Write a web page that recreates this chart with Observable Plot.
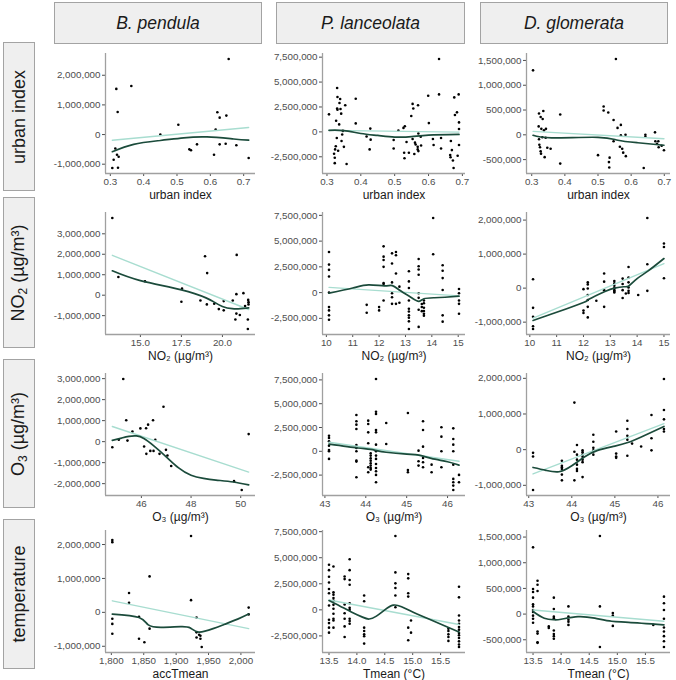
<!DOCTYPE html>
<html>
<head>
<meta charset="utf-8">
<script src="https://cdn.jsdelivr.net/npm/d3@7"></script>
<script src="https://cdn.jsdelivr.net/npm/@observablehq/plot@0.6"></script>
<style>
  html, body { margin: 0; padding: 0; background: #fff; }
  #root { position: relative; width: 676px; height: 680px; overflow: hidden; font-family: "Liberation Sans", Arial, "DejaVu Sans", sans-serif; }
  .hbox { position: absolute; box-sizing: border-box; background: #efefef; border: 1px solid #a3a3a3; display: flex; align-items: center; justify-content: center; font-style: italic; font-size: 17.5px; color: #1a1a1a; }
  .rbox { position: absolute; box-sizing: border-box; background: #efefef; border: 1px solid #a3a3a3; }
  .rbox span { position: absolute; left: 50%; top: 50%; transform: translate(-50%, -50%) rotate(-90deg); white-space: nowrap; font-size: 18px; color: #1a1a1a; }
  .rbox sub { font-size: 12px; vertical-align: -3px; }
  .panel { position: absolute; }
</style>
</head>
<body>
<div id="root"></div>
<script>
// ---------------- DATA (y values in millions) ----------------
const species = ["B. pendula", "P. lanceolata", "D. glomerata"];
const rowLabels = ["urban index", "NO<sub>2</sub> (µg/m³)", "O<sub>3</sub> (µg/m³)", "temperature"];
const xLabels = [
  ["urban index", "urban index", "urban index"],
  ["NO₂ (µg/m³)", "NO₂ (µg/m³)", "NO₂ (µg/m³)"],
  ["O₃ (µg/m³)", "O₃ (µg/m³)", "O₃ (µg/m³)"],
  ["accTmean", "Tmean (°C)", "Tmean (°C)"]
];

// tick labels
const urbanTicks = [0.3, 0.4, 0.5, 0.6, 0.7];
const no2TicksBp = [15, 17.5, 20];
const no2Ticks = [10, 11, 12, 13, 14, 15];
const o3TicksBp = [46, 48, 50];
const o3Ticks = [43, 44, 45, 46];
const accTicks = [1800, 1850, 1900, 1950, 2000];
const tmeanTicks = [13.5, 14, 14.5, 15, 15.5];
const yT1 = [-1, 0, 1, 2];
const yT25 = [-2.5, 0, 2.5, 5, 7.5];
const yT05 = [-0.5, 0, 0.5, 1, 1.5];
const yT3 = [-1, 0, 1, 2, 3];
const yTo3 = [-2, -1, 0, 1, 2, 3];
const yT2 = [-1, 0, 1, 2];

// Row 1: urban index
const bpUrbanPts = [[0.306,-1.13],[0.31,-0.85],[0.315,-0.47],[0.318,1.54],[0.32,-0.68],[0.322,0.76],[0.323,-1.12],[0.325,-0.75],[0.363,1.64],[0.45,0.0],[0.504,0.33],[0.537,-0.5],[0.542,-0.53],[0.56,-0.33],[0.611,-0.68],[0.616,0.17],[0.621,0.75],[0.628,0.57],[0.628,-0.33],[0.646,-0.31],[0.648,0.64],[0.655,2.55],[0.678,-0.36],[0.715,-0.79]];
const bpUrbanLin = [[0.306,-0.19],[0.715,0.24]];
const bpUrbanSmooth = [[0.306,-0.58],[0.37,-0.33],[0.45,-0.2],[0.52,-0.11],[0.59,-0.08],[0.67,-0.15],[0.715,-0.19]];

const plUrbanPts = [[0.306,1.76],[0.321,-2.19],[0.323,-3.14],[0.323,-2.6],[0.324,-1.76],[0.326,-1.44],[0.327,1.11],[0.329,-0.62],[0.33,4.41],[0.331,3.5],[0.33,2.35],[0.331,2.22],[0.333,-1.9],[0.336,0.75],[0.337,2.9],[0.339,3.3],[0.34,2.29],[0.342,1.83],[0.343,-0.92],[0.345,-0.26],[0.347,0.1],[0.35,-1.5],[0.354,2.68],[0.358,-3.23],[0.385,3.33],[0.385,0.85],[0.417,-0.46],[0.426,-1.76],[0.428,0.33],[0.429,-0.78],[0.497,-0.82],[0.497,-1.67],[0.511,0.13],[0.526,0.4],[0.53,0.56],[0.528,-2.09],[0.529,-2.65],[0.535,-1.01],[0.542,-2.09],[0.549,1.6],[0.553,2.81],[0.555,2.35],[0.553,-0.72],[0.558,-2.22],[0.56,-1.08],[0.562,-1.27],[0.569,2.68],[0.57,-0.16],[0.568,-1.5],[0.568,-1.76],[0.57,-1.93],[0.577,-0.49],[0.578,-1.37],[0.599,3.63],[0.601,0.88],[0.613,-0.72],[0.615,-1.31],[0.631,7.32],[0.631,3.76],[0.637,-0.62],[0.637,-1.67],[0.666,-0.92],[0.669,-1.83],[0.664,-2.32],[0.665,-2.55],[0.672,-2.88],[0.674,-3.63],[0.676,3.46],[0.678,1.7],[0.684,1.96],[0.686,-2.39],[0.689,3.76],[0.69,0.95],[0.69,0.29],[0.69,-1.31]];
const plUrbanLin = [[0.306,0.15],[0.69,-0.02]];
const plUrbanSmooth = [[0.306,0.16],[0.35,0.13],[0.4,-0.16],[0.45,-0.36],[0.5,-0.52],[0.55,-0.48],[0.6,-0.33],[0.69,-0.26]];

const dgUrbanPts = [[0.304,1.3],[0.322,0.43],[0.335,0.48],[0.327,0.36],[0.333,0.32],[0.321,0.17],[0.329,0.12],[0.337,0.09],[0.343,0.12],[0.332,-0.05],[0.342,-0.06],[0.322,-0.09],[0.323,-0.2],[0.325,-0.25],[0.327,-0.33],[0.328,-0.38],[0.339,-0.45],[0.347,-0.26],[0.357,-0.28],[0.386,0.41],[0.386,-0.58],[0.5,-0.41],[0.517,0.57],[0.517,0.49],[0.531,0.45],[0.535,-0.46],[0.533,-0.55],[0.534,-0.66],[0.547,0.3],[0.547,-0.13],[0.554,1.53],[0.559,0.14],[0.569,0.2],[0.569,-0.01],[0.566,-0.24],[0.573,-0.28],[0.576,-0.36],[0.583,0.0],[0.584,-0.43],[0.638,-0.67],[0.643,0.0],[0.643,-0.04],[0.672,0.05],[0.673,-0.13],[0.678,-0.18],[0.682,-0.13],[0.683,-0.25],[0.692,-0.22],[0.699,-0.31]];
const dgUrbanLin = [[0.304,0.07],[0.699,-0.08]];
const dgUrbanSmooth = [[0.304,-0.01],[0.36,-0.06],[0.5,-0.05],[0.56,-0.11],[0.62,-0.16],[0.699,-0.21]];

// Row 2: NO2
const bpNo2Pts = [[13.29,3.77],[13.66,0.89],[15.28,0.68],[17.54,0.32],[17.5,-0.32],[18.66,-0.26],[18.94,1.9],[19.07,1.08],[19.05,-0.45],[19.5,-0.42],[19.78,-0.68],[20.08,-0.74],[20.08,-0.29],[20.63,-0.26],[20.85,0.05],[20.87,1.97],[20.85,-0.9],[20.79,-1.19],[21.06,-0.97],[21.28,0.1],[21.57,-0.23],[21.59,-0.34],[21.59,-0.45],[21.38,-0.53],[21.55,-1.19],[21.55,-1.65]];
const bpNo2Lin = [[13.29,1.95],[21.6,-0.7]];
const bpNo2Smooth = [[13.29,1.19],[15,0.71],[17.5,0.26],[19,-0.13],[19.5,-0.34],[20,-0.55],[20.6,-0.66],[21.1,-0.66],[21.6,-0.62]];

const plNo2Groups = [
  [10.1, [3.94,2.72,2.21,1.57,0,-1.41,-1.73,-2.21,-2.63]],
  [11.53, [-1.19,-1.96]],
  [12.0, [-1.41,-1.73]],
  [12.17, [4.49,3.49,3.17,2.5,0.93,0.83,-0.77]],
  [12.49, [3.81,2.82,0.99,-0.06,-0.45,-1.09]],
  [12.64, [3.94,3.62,1.86,-1.09]],
  [12.77, [0.58,-0.99]],
  [13.13, [2.08,1.09,0.45,-0.77,-1.57,-1.83,-2.21,-2.44,-2.79,-3.53]],
  [13.5, [3.27,2.56,2.24,1.73,-0.06,-0.51,-1.67,-3.33]],
  [13.62, [-1.1,-1.4,-1.8]],
  [13.7, [-0.77,-1.03,-1.47,-1.79,-2.05,-2.24]],
  [14.05, [7.24,3.72]],
  [14.41, [2.66,2.12,1.41,0.26,-2.21,-2.82]],
  [15.03, [0.35,-0.06,-0.77,-1.09,-2.05]]
];
const plNo2Lin = [[10.1,0.51],[15.03,-0.32]];
const plNo2Smooth = [[10.1,-0.05],[11,0.45],[11.6,0.75],[12.2,0.65],[12.5,0.68],[12.8,0.2],[13.2,-0.45],[13.5,-0.85],[13.7,-0.6],[14.1,-0.5],[14.5,-0.45],[15.03,-0.35]];

const dgNo2Groups = [
  [10.12, [0.26,-0.58,-0.84,-1.12,-1.2]],
  [12.0, [-0.03,-0.66,-0.73]],
  [12.16, [0.17,0.11,-0.01,-0.2,-0.35,-0.55,-0.86]],
  [12.48, [-0.37]],
  [12.77, [0.43,0.19,-0.06,-0.55]],
  [13.15, [0.21,0.14,0.07,0,-0.06,-0.1,-0.13]],
  [13.46, [0.28,0.12,-0.06,-0.29]],
  [13.58, [-0.16]],
  [13.68, [0.62,0.31,0.17,0.02,-0.08,-0.14]],
  [14.04, [-0.2]],
  [14.38, [2.06,0.7,-0.08]],
  [15.0, [1.31,1.21,0.29]]
];
const dgNo2Lin = [[10.12,-0.88],[15.0,0.72]];
const dgNo2Smooth = [[10.12,-0.95],[11,-0.71],[12,-0.42],[12.2,-0.33],[12.8,-0.1],[13.15,0.0],[13.5,0.04],[13.7,0.07],[14.0,0.28],[14.4,0.5],[15.0,0.87]];

// Row 3: O3
const bpO3Pts = [[44.83,-0.27],[45.09,0.09],[45.27,2.98],[45.39,1.02],[45.44,0.05],[45.64,0.48],[45.96,0.63],[46.11,-0.23],[46.19,0.64],[46.2,-0.58],[46.27,0.81],[46.36,-0.44],[46.47,1.02],[46.49,-0.44],[46.56,0.09],[46.73,-0.58],[46.89,1.66],[46.99,-0.39],[47.05,-0.66],[47.2,-1.16],[49.73,-1.88],[50.04,-2.3],[50.32,0.36]];
const bpO3Lin = [[44.83,0.72],[50.32,-1.45]];
const bpO3Smooth = [[44.83,0.06],[45.2,0.17],[45.5,0.25],[45.8,0.27],[46.1,0.15],[46.5,-0.2],[47,-0.72],[47.5,-1.25],[48,-1.6],[48.5,-1.75],[49,-1.83],[49.7,-1.92],[50.32,-2.06]];

const plO3Groups = [
  [43.1, [1.64,1.4,1.05,0.59,0.14,0,-0.8]],
  [43.77, [3.81,3.15,2.8,2.34,0.66,0.35,0,-0.98,-1.08,-2.73]],
  [44.06, [3.22,2.87,1.99,0.84,-1.68,-2.2]],
  [44.12, [-0.21,-0.45,-0.73,-0.98,-1.26,-1.5,-1.75,-1.92]],
  [44.25, [7.59,4.16,3.92,2.24,1.99,0.7,0,-0.45,-0.8,-1.33,-1.75,-2.1,-2.48,-3.25]],
  [44.5, [2.97,0.77]],
  [45.03, [4.02,-1.96,-2.2]],
  [45.29, [0.07,-1.05,-1.5]],
  [45.4, [3.15,2.24,0.49,-0.7,-1.15,-1.68]],
  [45.61, [-1.4,-2.2]],
  [45.85, [2.52,1.54,0,-1.68]],
  [46.14, [2.41,1.29,0.7,0,-1.4,-2.9,-3.25,-3.6,-4.06]],
  [46.28, [-2.48,-3.25]]
];
const plO3Lin = [[43.1,0.95],[46.28,-1.05]];
const plO3Smooth = [[43.1,0.75],[43.8,0.35],[44.12,0.2],[44.5,-0.1],[45.0,-0.3],[45.3,-0.4],[45.6,-0.75],[46.0,-1.1],[46.28,-1.45]];

const dgO3Groups = [
  [43.1, [-0.09,-0.19,-1.13]],
  [43.77, [-0.31,-0.45,-0.49,-0.54,-0.7,-0.86]],
  [44.06, [1.32,-0.06,-0.86]],
  [44.12, [0.13,-0.14,-0.28,-0.42,-0.54,-0.6]],
  [44.25, [-0.02,-0.07,-0.14,-0.2,-0.28,-0.35,-0.77]],
  [44.5, [0.42,0.22,0.05,-0.02,-0.14]],
  [45.03, [0.51,-0.11,-0.19,-0.23]],
  [45.29, [0.81,0.58,0.39,0.28,-0.17]],
  [45.4, [0.17]],
  [45.61, [0.09]],
  [45.85, [0.97,0.32,-0.02]],
  [46.14, [1.98,1.11,0.85,0.58,0.51]]
];
const dgO3Lin = [[43.1,-0.68],[46.14,0.73]];
const dgO3Smooth = [[43.1,-0.5],[43.4,-0.58],[43.7,-0.62],[44.0,-0.45],[44.3,-0.2],[44.6,-0.02],[45.0,0.1],[45.3,0.2],[45.6,0.35],[46.14,0.65]];

// Row 4: temperature
const bpTempGroups = [
  [1801.5, [2.13,2.07,-0.19,-0.34,-0.63]],
  [1827.3, [0.57,0.28]],
  [1842.7, [-0.13,-0.78]],
  [1851, [-0.88]],
  [1859, [1.06,-0.48]],
  [1923, [2.25,0.36]],
  [1931.5, [-0.15,-0.59,-0.74]],
  [1935.5, [-0.66]],
  [1937.5, [-0.69,-0.78]],
  [1939.5, [-1.02]],
  [2012, [0.14,-0.06]]
];
const bpTempLin = [[1801.5,0.34],[2012,-0.48]];
const bpTempSmooth = [[1801.5,-0.05],[1842.7,-0.15],[1857,-0.37],[1877,-0.44],[1907,-0.42],[1922,-0.46],[1935,-0.58],[1957,-0.48],[1975,-0.35],[1995,-0.2],[2012,-0.05]];

const plTempGroups = [
  [13.5, [4.32,3.81,3.17,2.63,2.0,1.59,0.41,-0.95,-1.27,-1.71,-2.19]],
  [13.58, [4.16,1.68,1.46,1.14,0.89,0.48,0.1,-0.38,-0.86,-1.02,-1.71]],
  [13.78, [3.2,2.95,0.51,-0.32,-0.86,-1.59,-2.6]],
  [13.87, [4.86,3.81,2.86,2.41,0.63,0.19,0,-0.86,-1.08,-1.33]],
  [14.13, [1.37,0.83,-1.71,-2.03,-2.35,-2.54,-3.24]],
  [14.69, [7.08,3.59,2.54,2.1,1.37,0.25]],
  [14.92, [3.43,3.02,1.59,1.27,-1.71,-2.92]],
  [14.97, [-1.02,-2.19]],
  [15.64, [-1.81,-2.03,-2.35,-2.6,-2.98]],
  [15.83, [2.22,1.2,-0.54,-1.02,-1.33,-1.65,-1.9,-2.22,-2.44,-2.7,-3.02,-3.33,-3.56]]
];
const plTempLin = [[13.5,0.95],[15.83,-1.4]];
const plTempSmooth = [[13.5,0.89],[13.7,0.35],[13.9,-0.2],[14.1,-0.7],[14.22,-0.88],[14.35,-0.6],[14.5,0.0],[14.65,0.45],[14.8,0.3],[15.0,-0.2],[15.3,-0.9],[15.6,-1.6],[15.83,-2.13]];

const dgTempGroups = [
  [13.5, [1.3,0.49,0.43,0.32,0.19,0.15,0.08,0.04,-0.03,-0.09,-0.17]],
  [13.58, [0.65,0.57,0.45,-0.34,-0.38,-0.55,-0.56]],
  [13.78, [-0.24,-0.27]],
  [13.87, [0.32,0.1,-0.05,-0.08,-0.32,-0.39,-0.43,-0.48]],
  [14.13, [0.15,-0.05,-0.11,-0.15,-0.21]],
  [14.69, [1.52,0.15,-0.64]],
  [14.92, [0.02,-0.03,-0.23]],
  [15.64, [-0.21]],
  [15.83, [0.34,0.21,0.08,-0.09,-0.26,-0.34,-0.43,-0.53,-0.64]]
];
const dgTempLin = [[13.5,0.08],[15.83,-0.14]];
const dgTempSmooth = [[13.5,0.05],[13.7,-0.08],[13.87,-0.11],[14.0,-0.1],[14.3,-0.05],[14.6,-0.08],[14.9,-0.14],[15.2,-0.16],[15.83,-0.21]];

// ---------------- LAYOUT ----------------
const flat = groups => groups.flatMap(([x, ys]) => ys.map(y => [x, y]));
const fmt1 = d3.format(".1f");
const fmtInt = d => String(d);
const fmtComma = d => d.toLocaleString("en-US");

const panels = [
  [
    {pts: bpUrbanPts, lin: bpUrbanLin, sm: bpUrbanSmooth, xt: urbanTicks, xf: fmt1, yt: yT1},
    {pts: plUrbanPts, lin: plUrbanLin, sm: plUrbanSmooth, xt: urbanTicks, xf: fmt1, yt: yT25},
    {pts: dgUrbanPts, lin: dgUrbanLin, sm: dgUrbanSmooth, xt: urbanTicks, xf: fmt1, yt: yT05}
  ],
  [
    {pts: bpNo2Pts, lin: bpNo2Lin, sm: bpNo2Smooth, xt: no2TicksBp, xf: fmt1, yt: yT3},
    {pts: flat(plNo2Groups), lin: plNo2Lin, sm: plNo2Smooth, xt: no2Ticks, xf: fmtInt, yt: yT25},
    {pts: flat(dgNo2Groups), lin: dgNo2Lin, sm: dgNo2Smooth, xt: no2Ticks, xf: fmtInt, yt: yT2}
  ],
  [
    {pts: bpO3Pts, lin: bpO3Lin, sm: bpO3Smooth, xt: o3TicksBp, xf: fmtInt, yt: yTo3},
    {pts: flat(plO3Groups), lin: plO3Lin, sm: plO3Smooth, xt: o3Ticks, xf: fmtInt, yt: yT25},
    {pts: flat(dgO3Groups), lin: dgO3Lin, sm: dgO3Smooth, xt: o3Ticks, xf: fmtInt, yt: yT2}
  ],
  [
    {pts: flat(bpTempGroups), lin: bpTempLin, sm: bpTempSmooth, xt: accTicks, xf: fmtComma, yt: yT1},
    {pts: flat(plTempGroups), lin: plTempLin, sm: plTempSmooth, xt: tmeanTicks, xf: fmt1, yt: yT25},
    {pts: flat(dgTempGroups), lin: dgTempLin, sm: dgTempSmooth, xt: tmeanTicks, xf: fmt1, yt: yT05}
  ]
];

// frame geometry (pixels)
const colGeom = [
  {left: 36, ml: 69, fr: 255},
  {left: 260, ml: 62, fr: 465},
  {left: 468, ml: 58, fr: 670}
];
const rowGeom = [
  {top: 53, bottom: 173},
  {top: 212, bottom: 334},
  {top: 373, bottom: 495},
  {top: 530, bottom: 652}
];
const headerGeom = [[54, 262], [276, 465], [480, 668]];
const rowBoxGeom = [[42, 191], [197, 348], [359, 508], [519, 669]];

const root = document.getElementById("root");

species.forEach((s, i) => {
  const d = document.createElement("div");
  d.className = "hbox";
  d.style.left = headerGeom[i][0] + "px";
  d.style.width = (headerGeom[i][1] - headerGeom[i][0]) + "px";
  d.style.top = "2px";
  d.style.height = "42px";
  d.textContent = s;
  root.appendChild(d);
});
rowLabels.forEach((s, i) => {
  const d = document.createElement("div");
  d.className = "rbox";
  d.style.left = "3px";
  d.style.width = "32px";
  d.style.top = rowBoxGeom[i][0] + "px";
  d.style.height = (rowBoxGeom[i][1] - rowBoxGeom[i][0]) + "px";
  d.innerHTML = "<span>" + s + "</span>";
  root.appendChild(d);
});

const MT = 8, MB = 34, MR = 8;
panels.forEach((row, r) => {
  row.forEach((p, c) => {
    const cg = colGeom[c], rg = rowGeom[r];
    const all = [...p.pts, ...p.lin, ...p.sm];
    const [x0, x1] = d3.extent(all, d => d[0]);
    const [y0, y1] = d3.extent(all, d => d[1]);
    const dx = (x1 - x0) * 0.05, dy = (y1 - y0) * 0.05;
    const xd = [x0 - dx, x1 + dx];
    const yd = [(y0 - dy) * 1e6, (y1 + dy) * 1e6];
    const width = cg.fr + MR - cg.left;
    const height = rg.bottom - rg.top + MT + MB;
    const chart = Plot.plot({
      width, height,
      marginLeft: cg.ml, marginRight: MR, marginTop: MT, marginBottom: MB,
      style: {fontFamily: '"Liberation Sans", Arial, "DejaVu Sans", sans-serif', fontSize: "9.8px", color: "#4d4d4d", background: "transparent", overflow: "visible"},
      x: {domain: xd, ticks: p.xt, tickFormat: p.xf, tickSize: 3, tickPadding: 2, label: null},
      y: {domain: yd, ticks: p.yt.map(v => v * 1e6), tickFormat: fmtComma, tickSize: 3, tickPadding: 2, label: null},
      marks: [
        Plot.ruleX([xd[0]], {stroke: "#a0a0a0", strokeWidth: 1.3}),
        Plot.ruleY([yd[0]], {stroke: "#a0a0a0", strokeWidth: 1.3}),
        Plot.dot(p.pts, {x: d => d[0], y: d => d[1] * 1e6, r: 1.3, fill: "#000", stroke: null}),
        Plot.line(p.lin, {x: d => d[0], y: d => d[1] * 1e6, stroke: "#a8ddd0", strokeWidth: 1.4}),
        Plot.line(p.sm, {x: d => d[0], y: d => d[1] * 1e6, stroke: "#1b4b3b", strokeWidth: 1.7, curve: "natural"}),
        Plot.text([xLabels[r][c]], {text: d => d, frameAnchor: "bottom", dy: 22, fontSize: 12, fill: "#1a1a1a", lineAnchor: "middle"})
      ]
    });
    chart.classList.add("panel");
    chart.style.left = cg.left + "px";
    chart.style.top = (rg.top - MT) + "px";
    chart.style.position = "absolute";
    root.appendChild(chart);
  });
});
</script>
</body>
</html>
